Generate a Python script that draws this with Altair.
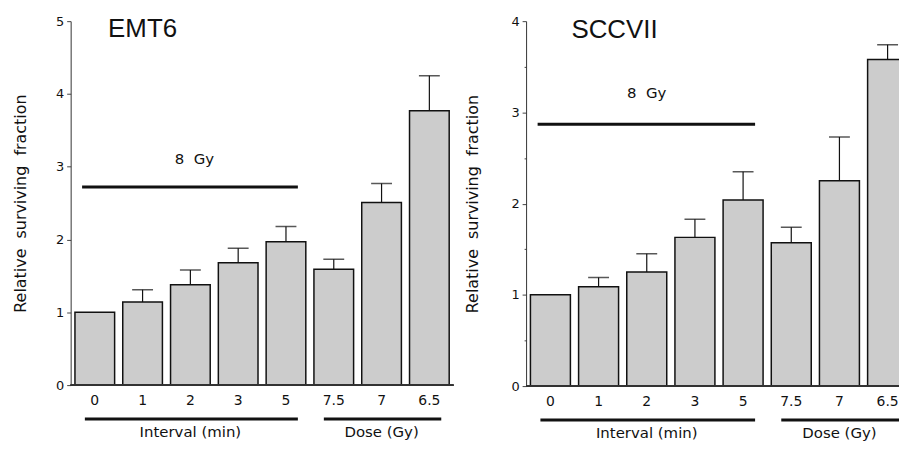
import altair as alt
import pandas as pd

categories = ["0", "1", "2", "3", "5", "7.5", "7", "6.5"]

emt6_mean = [1.00, 1.14, 1.38, 1.68, 1.97, 1.59, 2.51, 3.77]
emt6_err = [None, 1.31, 1.58, 1.88, 2.18, 1.73, 2.77, 4.25]

sccvii_mean = [1.00, 1.09, 1.25, 1.63, 2.04, 1.57, 2.25, 3.58]
sccvii_err = [None, 1.19, 1.45, 1.83, 2.35, 1.74, 2.73, 3.74]

group_names = ["Interval (min)", "Dose (Gy)"]
group_start = ["0", "7.5"]
group_end = ["5", "6.5"]
group_label_at = ["2", "7"]

dose_label = "8\u00a0 Gy"
dose_start = "0"
dose_end = "5"

FONT = "DejaVu Sans"
INK = "#111111"
YTITLE = "Relative\u00a0 surviving\u00a0 fraction"


def panel(name, mean, err, ymax, line_y, text_y, title_y, title_dx, dose_dx,
          title_pad, width, band_range, height):
    df = pd.DataFrame({"cat": categories, "mean": mean, "err": err})
    xscale = alt.Scale(domain=categories, paddingInner=0.17, paddingOuter=0.09,
                       range=[0, band_range])
    yscale = alt.Scale(domain=[0, ymax], nice=False)
    tick_vals = [i * 0.5 for i in range(int(ymax * 2) + 1)]

    x = alt.X(
        "cat:N", scale=xscale, sort=categories, title=None,
        axis=alt.Axis(
            labelAngle=0, labelFont=FONT, labelFontSize=14, labelColor=INK,
            labelPadding=9, ticks=False, tickSize=0, domain=False,
        ),
    )
    y = alt.Y(
        "mean:Q", scale=yscale, title=YTITLE,
        axis=alt.Axis(
            values=tick_vals,
            labelExpr="datum.value % 1 ? '' : format(datum.value, 'd')",
            tickSize={"condition": {"test": "datum.value % 1 !== 0", "value": 2}, "value": 4},
            tickColor="#444", domainColor="#333", domainWidth=1,
            labelFont=FONT, labelFontSize=13, labelColor=INK, labelPadding=3,
            titleFont=FONT, titleFontSize=16, titleFontWeight="normal",
            titleColor=INK, titlePadding=title_pad,
        ),
    )

    bars = alt.Chart(df).mark_bar(
        fill="#cccccc", stroke=INK, strokeWidth=1.5, clip=True
    ).encode(x=x, y=y)

    baseline = alt.Chart(df).mark_rule(color="#333", strokeWidth=1).encode(
        x=alt.value(0), x2=alt.value(width), y=alt.datum(0)
    )

    errs = alt.Chart(df).transform_filter("isValid(datum.err)")
    err_line = errs.mark_rule(color=INK, strokeWidth=1.2, clip=True).encode(
        x=alt.X("cat:N", sort=categories), y="mean:Q", y2="err:Q"
    )
    err_cap = errs.mark_tick(
        color=INK, thickness=1.5, size=21, orient="horizontal", clip=True
    ).encode(x=alt.X("cat:N", sort=categories), y="err:Q")

    dose_df = pd.DataFrame({"start": [dose_start], "end": [dose_end], "y": [line_y],
                            "at": ["2"], "ty": [text_y], "label": [dose_label]})
    dose_line = alt.Chart(dose_df).mark_rule(color=INK, strokeWidth=3).encode(
        x=alt.X("start:N", bandPosition=0.18),
        x2=alt.X2("end:N", bandPosition=0.8),
        y="y:Q",
    )
    dose_text = alt.Chart(dose_df).mark_text(
        font=FONT, fontSize=15, color=INK, baseline="middle", dx=dose_dx
    ).encode(x="at:N", y="ty:Q", text="label:N")

    grp_df = pd.DataFrame({"name": group_names, "start": group_start,
                           "end": group_end, "at": group_label_at})
    grp_line = alt.Chart(grp_df).mark_rule(color=INK, strokeWidth=3).encode(
        x=alt.X("start:N", bandPosition=0.25),
        x2=alt.X2("end:N", bandPosition=0.8),
        y=alt.value(height + 34),
    )
    grp_text = alt.Chart(grp_df).mark_text(
        font=FONT, fontSize=15, color=INK, baseline="middle"
    ).encode(x="at:N", y=alt.value(height + 47), text="name:N")

    title_df = pd.DataFrame({"name": [name], "at": ["1"], "y": [title_y]})
    title = alt.Chart(title_df).mark_text(
        font="Liberation Sans", fontSize=26, color=INK,
        baseline="top", align="center", dx=title_dx,
    ).encode(x="at:N", y="y:Q", text="name:N")

    return alt.layer(
        bars, baseline, err_line, err_cap, dose_line, dose_text,
        grp_line, grp_text, title
    ).properties(width=width, height=height)


left = panel("EMT6", emt6_mean, emt6_err, 5, 2.72, 3.11, 5.07, 0, 4, 27,
             385, 385, 366)
right = panel("SCCVII", sccvii_mean, sccvii_err, 4, 2.87, 3.21, 4.04, 16, 0, 31,
              375, 388, 367)

chart = alt.hconcat(left, right, spacing=9).configure_view(
    stroke=None
).configure_axis(grid=False).properties(
    padding={"left": 4, "top": 6, "right": -13, "bottom": 0},
)

chart.save("out.html", embed_options={"renderer": "svg", "actions": False})
